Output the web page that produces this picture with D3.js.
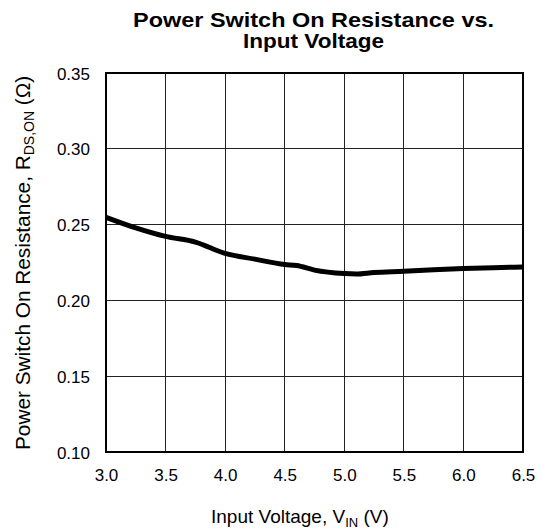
<!DOCTYPE html>
<html>
<head>
<meta charset="utf-8">
<script src="https://cdn.jsdelivr.net/npm/d3@7/dist/d3.min.js"></script>
<style>
  html, body { margin: 0; padding: 0; background: #fff; }
  svg { display: block; font-family: "Liberation Sans", Arial, sans-serif; }
</style>
</head>
<body>
<svg id="chart" width="542" height="529"></svg>
<script>
// ---- data ----
const vin = [3.0, 3.25, 3.5, 3.75, 4.0, 4.25, 4.5, 4.6, 4.75, 5.0, 5.1, 5.25, 5.5, 5.75, 6.0, 6.25, 6.5];
const rdson = [0.2548, 0.2478, 0.2422, 0.2385, 0.2310, 0.2272, 0.2237, 0.2230, 0.2200, 0.2177, 0.2174, 0.2184, 0.2192, 0.2202, 0.2210, 0.2216, 0.2220];
const xTicks = [3.0, 3.5, 4.0, 4.5, 5.0, 5.5, 6.0, 6.5];
const yTicks = [0.10, 0.15, 0.20, 0.25, 0.30, 0.35];
const titleLines = ["Power Switch On Resistance vs.", "Input Voltage"];

// ---- layout ----
const L = 106, R = 523, T = 73, B = 452;
const svg = d3.select("#chart");
const x = d3.scaleLinear().domain([3.0, 6.5]).range([L, R]);
const y = d3.scaleLinear().domain([0.10, 0.35]).range([B, T]);

// grid
const grid = svg.append("g");
grid.selectAll("line.v").data(xTicks.slice(1, -1)).enter().append("line")
  .attr("x1", d => x(d)).attr("x2", d => x(d)).attr("y1", T).attr("y2", B)
  .attr("stroke", "#222").attr("stroke-width", 1).attr("shape-rendering", "crispEdges");
grid.selectAll("line.h").data(yTicks.slice(1, -1)).enter().append("line")
  .attr("x1", L).attr("x2", R).attr("y1", d => y(d)).attr("y2", d => y(d))
  .attr("stroke", "#222").attr("stroke-width", 1).attr("shape-rendering", "crispEdges");

// frame
svg.append("rect").attr("x", L).attr("y", T).attr("width", R - L).attr("height", B - T)
  .attr("fill", "none").attr("stroke", "#000").attr("stroke-width", 2);

// axes labels via d3 axis
const xAxis = svg.append("g").attr("transform", `translate(0,${B})`)
  .call(d3.axisBottom(x).tickValues(xTicks).tickSize(0).tickPadding(0).tickFormat(d3.format(".1f")));
xAxis.select(".domain").remove();
xAxis.selectAll("text").attr("y", 28.5).attr("dy", null)
  .attr("font-size", 17).attr("font-family", "Liberation Sans, Arial, sans-serif").attr("fill", "#000");

const yAxis = svg.append("g").attr("transform", `translate(${L},0)`)
  .call(d3.axisLeft(y).tickValues(yTicks).tickSize(0).tickPadding(0).tickFormat(d3.format(".2f")));
yAxis.select(".domain").remove();
yAxis.selectAll("text").attr("x", -16).attr("dy", "0.36em")
  .attr("font-size", 17).attr("font-family", "Liberation Sans, Arial, sans-serif").attr("fill", "#000");

// curve
const line = d3.line().x((d, i) => x(vin[i])).y(d => y(d)).curve(d3.curveMonotoneX);
svg.append("path").datum(rdson).attr("d", line)
  .attr("fill", "none").attr("stroke", "#000").attr("stroke-width", 5)
  .attr("stroke-linejoin", "round");

// title
const titleWidths = [361, 141];
svg.append("g").selectAll("text").data(titleLines).enter().append("text")
  .attr("x", 313.5).attr("y", (d, i) => 27 + i * 21)
  .attr("text-anchor", "middle").attr("font-size", 21).attr("font-weight", "bold")
  .attr("textLength", (d, i) => titleWidths[i]).attr("lengthAdjust", "spacingAndGlyphs")
  .text(d => d);

// x title
const xt = svg.append("text").attr("x", 211).attr("y", 523).attr("font-size", 19);
xt.append("tspan").text("Input Voltage, V");
xt.append("tspan").attr("font-size", 13).attr("dy", 4).text("IN");
xt.append("tspan").attr("dy", -4).text(" (V)");

// y title
const yt = svg.append("text").attr("transform", "translate(29.5,450) rotate(-90)")
  .attr("x", 0).attr("y", 0).attr("font-size", 20.8);
yt.append("tspan").text("Power Switch On Resistance, R");
yt.append("tspan").attr("font-size", 14).attr("dy", 4).text("DS,ON");
yt.append("tspan").attr("dy", -4).text(" (Ω)");
</script>
</body>
</html>
